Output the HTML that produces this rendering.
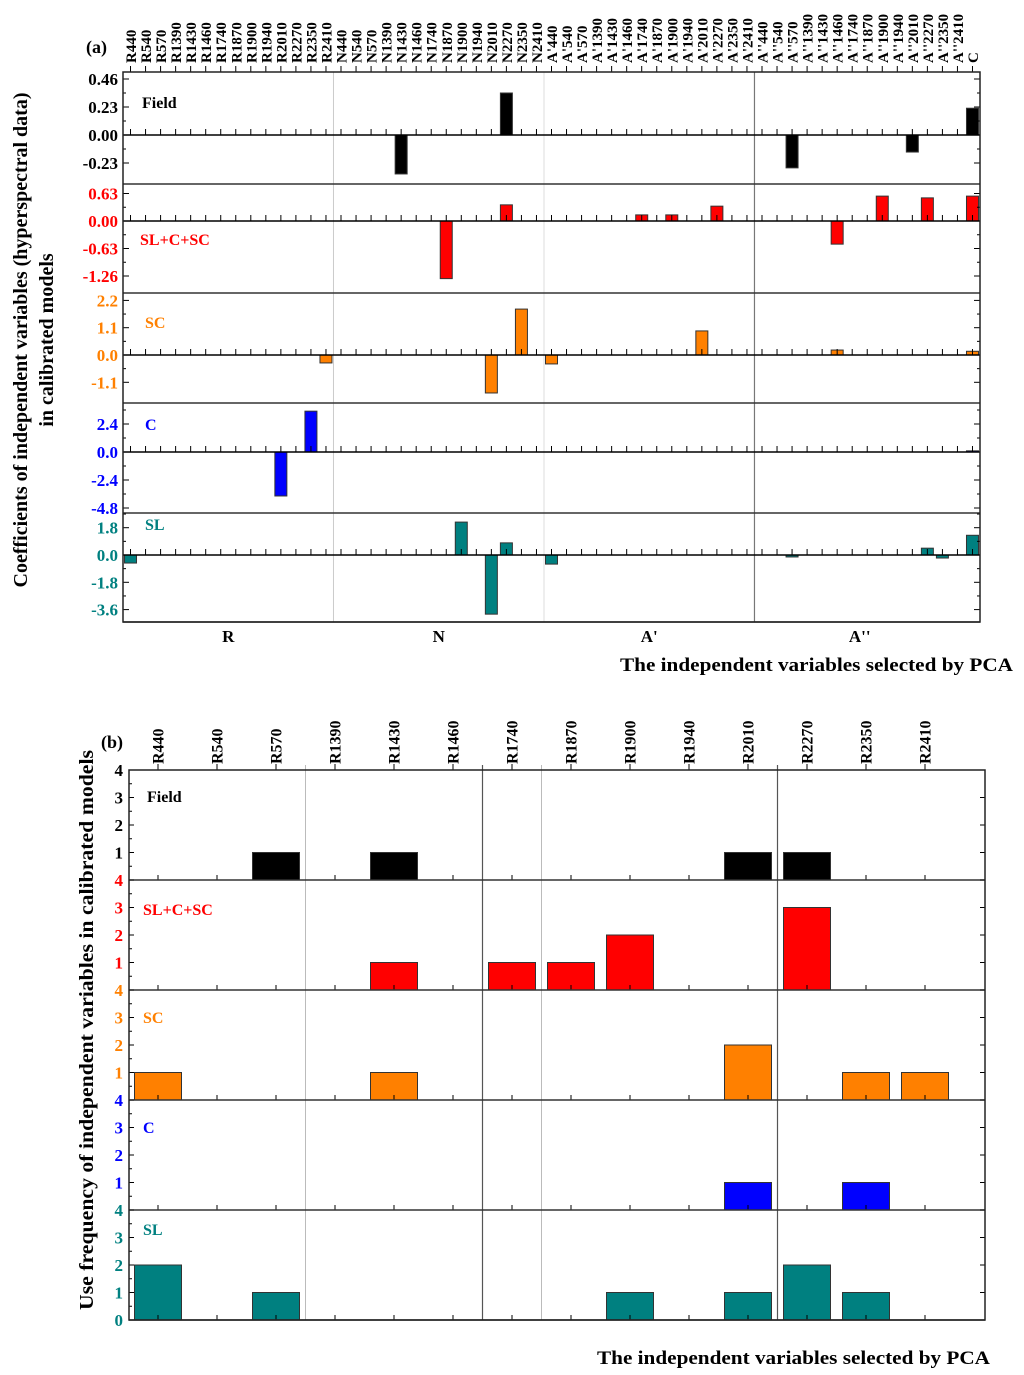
<!DOCTYPE html>
<html><head><meta charset="utf-8"><style>
body{margin:0;background:#fff}
svg{display:block;font-family:"Liberation Serif",serif}
</style></head><body>
<svg id="chart" width="1024" height="1375" viewBox="0 0 1024 1375" xmlns="http://www.w3.org/2000/svg"></svg>
<script>
// ---------- Panel (a) data ----------
const groupsA = ["R","N","A'","A''"];
const wavelengths = ["440","540","570","1390","1430","1460","1740","1870","1900","1940","2010","2270","2350","2410"];
const groupLabelsA = ["R","N","A'","A''"];
const fieldA = {"N1430":-0.32,"N2270":0.345,"A''570":-0.27,"A''2010":-0.14,"C":0.22};
const slcscA = {"N1870":-1.32,"N2270":0.37,"A'1740":0.14,"A'1900":0.14,"A'2270":0.34,"A''1460":-0.53,"A''1900":0.57,"A''2270":0.53,"C":0.57};
const scA = {"R2410":-0.32,"N2010":-1.53,"N2350":1.85,"A'440":-0.36,"A'2010":0.97,"A''1460":0.2,"C":0.15};
const cA = {"R2010":-3.77,"R2350":3.5,"C":0.1};
const slA = {"R440":-0.53,"N1900":2.17,"N2010":-3.9,"N2270":0.8,"A'440":-0.6,"A''570":-0.13,"A''2270":0.45,"A''2350":-0.2,"C":1.3};
const ticksField = [0.46,0.23,0.00,-0.23];
const ticksSlcsc = [0.63,0.00,-0.63,-1.26];
const ticksSc = [2.2,1.1,0.0,-1.1];
const ticksC = [2.4,0.0,-2.4,-4.8];
const ticksSl = [1.8,0.0,-1.8,-3.6];
// ---------- Panel (b) data ----------
const catsB = ["R440","R540","R570","R1390","R1430","R1460","R1740","R1870","R1900","R1940","R2010","R2270","R2350","R2410"];
const fieldB = [0,0,1,0,1,0,0,0,0,0,1,1,0,0];
const slcscB = [0,0,0,0,1,0,1,1,2,0,0,3,0,0];
const scB = [1,0,0,0,1,0,0,0,0,0,2,0,1,1];
const cB = [0,0,0,0,0,0,0,0,0,0,1,0,1,0];
const slB = [2,0,1,0,0,0,0,0,1,0,1,2,1,0];
const ticksB = [4,3,2,1];

const NS="http://www.w3.org/2000/svg";
const svg=document.getElementById('chart');
function el(tag,attrs,parent,text){const e=document.createElementNS(NS,tag);for(const k in attrs)e.setAttribute(k,attrs[k]);if(text!==undefined)e.textContent=text;(parent||svg).appendChild(e);return e;}

const COLORS={field:"#000000",slcsc:"#ff0000",sc:"#ff8000",c:"#0000ff",sl:"#008080"};

const catsA=[];
groupsA.forEach(g=>wavelengths.forEach(w=>catsA.push(g+w)));
catsA.push("C");
const AX0=123, AX1=980;
const bandA=(AX1-AX0)/catsA.length;
function xa(i){return AX0+(i+0.5)*bandA;}

const panelsA=[
 {name:"field",label:"Field",data:fieldA,ticks:ticksField,fmt:2,top:72,bot:184,zero:135,unit:0.23,px:28,lx:142,ly:108},
 {name:"slcsc",label:"SL+C+SC",data:slcscA,ticks:ticksSlcsc,fmt:2,top:184,bot:293,zero:221,unit:0.63,px:27.5,lx:140,ly:245},
 {name:"sc",label:"SC",data:scA,ticks:ticksSc,fmt:1,top:293,bot:403,zero:355,unit:1.1,px:27.3,lx:145,ly:328},
 {name:"c",label:"C",data:cA,ticks:ticksC,fmt:1,top:403,bot:513,zero:452,unit:2.4,px:28,lx:145,ly:430},
 {name:"sl",label:"SL",data:slA,ticks:ticksSl,fmt:1,top:513,bot:622,zero:555,unit:1.8,px:27.3,lx:145,ly:530}
];
const gA=el('g',{});


el('line',{x1:AX0+14*bandA,x2:AX0+14*bandA,y1:72,y2:622,stroke:"#ccc","stroke-width":1},gA);
el('line',{x1:AX0+28*bandA,x2:AX0+28*bandA,y1:72,y2:622,stroke:"#ddd","stroke-width":1},gA);
el('line',{x1:AX0+42*bandA,x2:AX0+42*bandA,y1:72,y2:622,stroke:"#777","stroke-width":1.2},gA);
catsA.forEach((c,i)=>{
  const x=xa(i);
  const t=el('text',{x:0,y:0,transform:`translate(${x+5.5},63) rotate(-90)`,"font-size":"15","font-weight":"bold",fill:"#000"},gA,c);
  
  
  el('line',{x1:x,x2:x,y1:66,y2:72,stroke:"#000","stroke-width":1},gA);
});
panelsA.forEach(p=>{
  const g=el('g',{},gA);
  
  
  const y=v=>p.zero-v/p.unit*p.px;
  catsA.forEach((c,i)=>{
    if(p.data[c]===undefined)return;
    const v=p.data[c];const y0=p.zero,y1=y(v);
    const r=el('rect',{x:xa(i)-6,y:Math.min(y0,y1),width:12,height:Math.abs(y1-y0),fill:COLORS[p.name],stroke:"#333","stroke-width":1},g);
    
    
  });
  el('line',{x1:AX0,x2:AX1,y1:p.zero,y2:p.zero,stroke:"#000","stroke-width":1.5},g);
  catsA.forEach((c,i)=>el('line',{x1:xa(i),x2:xa(i),y1:p.zero-6,y2:p.zero,stroke:"#000","stroke-width":1},g));
  p.ticks.forEach(t=>{
    const ty=y(t);
    el('line',{x1:AX0,x2:AX0+6,y1:ty,y2:ty,stroke:"#000"},g);
    el('line',{x1:AX1-6,x2:AX1,y1:ty,y2:ty,stroke:"#000"},g);
    const m=ty-p.px/2;
    if(m>p.top)el('line',{x1:AX0,x2:AX0+3,y1:m,y2:m,stroke:"#000"},g);
    if(m>p.top)el('line',{x1:AX1-3,x2:AX1,y1:m,y2:m,stroke:"#000"},g);
    const lab=el('text',{x:AX0-5,y:ty+6,"text-anchor":"end","font-size":"17","font-weight":"bold",fill:COLORS[p.name]},g,t.toFixed(p.fmt));
    
    
  });
  const l=el('text',{x:p.lx,y:p.ly,"font-size":"16","font-weight":"bold",fill:COLORS[p.name]},g,p.label);
  
  
  el('line',{x1:AX0,x2:AX1,y1:p.bot,y2:p.bot,stroke:"#333","stroke-width":1.5},g);
});
el('rect',{x:AX0,y:72,width:AX1-AX0,height:550,fill:"none",stroke:"#222","stroke-width":1.5},gA);
groupLabelsA.forEach((g,k)=>{
  const t=el('text',{x:AX0+(k*14+7)*bandA,y:642,"text-anchor":"middle","font-size":"17","font-weight":"bold"},gA,g);
  
  
});

// ---------- Panel (b) ----------
const BX0=129, BX1=985, BAND=59, BOFF=29;
function xb(i){return BX0+BOFF+i*BAND;}
const panelsB=[
 {name:"field",label:"Field",data:fieldB,top:770,lx:147,ly:802},
 {name:"slcsc",label:"SL+C+SC",data:slcscB,top:880,lx:143,ly:915},
 {name:"sc",label:"SC",data:scB,top:990,lx:143,ly:1023},
 {name:"c",label:"C",data:cB,top:1100,lx:143,ly:1133},
 {name:"sl",label:"SL",data:slB,top:1210,lx:143,ly:1235}
];
const PXB=27.5;
const gB=el('g',{});


[2.5,6.5].forEach(k=>el('line',{x1:BX0+BOFF+k*BAND,x2:BX0+BOFF+k*BAND,y1:765,y2:1320,stroke:"#bbb"},gB));
[5.5,10.5].forEach(k=>el('line',{x1:BX0+BOFF+k*BAND,x2:BX0+BOFF+k*BAND,y1:765,y2:1320,stroke:"#555","stroke-width":1.2},gB));
catsB.forEach((c,i)=>{
  const x=xb(i);
  const t=el('text',{x:0,y:0,transform:`translate(${x+5.5},764) rotate(-90)`,"font-size":"16","font-weight":"bold"},gB,c);
  
  
  el('line',{x1:x,x2:x,y1:764,y2:770,stroke:"#000"},gB);
});
panelsB.forEach((p,pi)=>{
  const g=el('g',{},gB);
  
  
  const base=p.top+110;
  p.data.forEach((v,i)=>{
    if(!v)return;
    const r=el('rect',{x:xb(i)-23.5,y:base-v*PXB,width:47,height:v*PXB,fill:COLORS[p.name],stroke:"#333","stroke-width":1},g);
    
    
  });
  catsB.forEach((c,i)=>el('line',{x1:xb(i),x2:xb(i),y1:base-5,y2:base,stroke:"#000"},g));
  const tks=pi===4?ticksB.concat([0]):ticksB;
  tks.forEach(t=>{
    const ty=base-t*PXB;
    el('line',{x1:BX0,x2:BX0+5,y1:ty,y2:ty,stroke:"#000"},g);
    el('line',{x1:BX1-5,x2:BX1,y1:ty,y2:ty,stroke:"#000"},g);
    if(t>0){const m=ty+PXB/2;el('line',{x1:BX0,x2:BX0+3,y1:m,y2:m,stroke:"#000"},g);}
    const lab=el('text',{x:BX0-6,y:ty+6,"text-anchor":"end","font-size":"17","font-weight":"bold",fill:COLORS[p.name]},g,String(t));
    
    
  });
  const l=el('text',{x:p.lx,y:p.ly,"font-size":"16","font-weight":"bold",fill:COLORS[p.name]},g,p.label);
  
  
  el('line',{x1:BX0,x2:BX1,y1:base,y2:base,stroke:"#333","stroke-width":1.5},g);
});
el('rect',{x:BX0,y:770,width:BX1-BX0,height:550,fill:"none",stroke:"#222","stroke-width":1.5},gB);
</script>
<script>
(function(){
const NS="http://www.w3.org/2000/svg";const svg=document.getElementById('chart');
function t(x,y,txt,attrs,name){const e=document.createElementNS(NS,'text');e.setAttribute('x',x);e.setAttribute('y',y);for(const k in attrs)e.setAttribute(k,attrs[k]);e.textContent=txt;


svg.appendChild(e);}
t(86,53,"(a)",{"font-size":"18","font-weight":"bold"},'panel-a-tag');
t(101,748,"(b)",{"font-size":"18","font-weight":"bold"},'panel-b-tag');
t(0,0,"Coefficients of independent variables (hyperspectral data)",{"font-size":"20","font-weight":"bold","text-anchor":"middle",transform:"translate(27,340) rotate(-90)"},'y-axis-title-a');
t(0,0,"in calibrated models",{"font-size":"20","font-weight":"bold","text-anchor":"middle",transform:"translate(53,340) rotate(-90)"},'y-axis-title-a-line2');
t(0,0,"Use frequency of independent variables in calibrated models",{"font-size":"20","font-weight":"bold","text-anchor":"middle",transform:"translate(93,1030) rotate(-90)",textLength:"560",lengthAdjust:"spacingAndGlyphs"},'y-axis-title-b');
t(1013,671,"The independent variables selected by PCA",{"font-size":"19","font-weight":"bold","text-anchor":"end",textLength:"393",lengthAdjust:"spacingAndGlyphs"},'x-axis-title-a');
t(990,1364,"The independent variables selected by PCA",{"font-size":"19","font-weight":"bold","text-anchor":"end",textLength:"393",lengthAdjust:"spacingAndGlyphs"},'x-axis-title-b');
})();
</script>
</body></html>
